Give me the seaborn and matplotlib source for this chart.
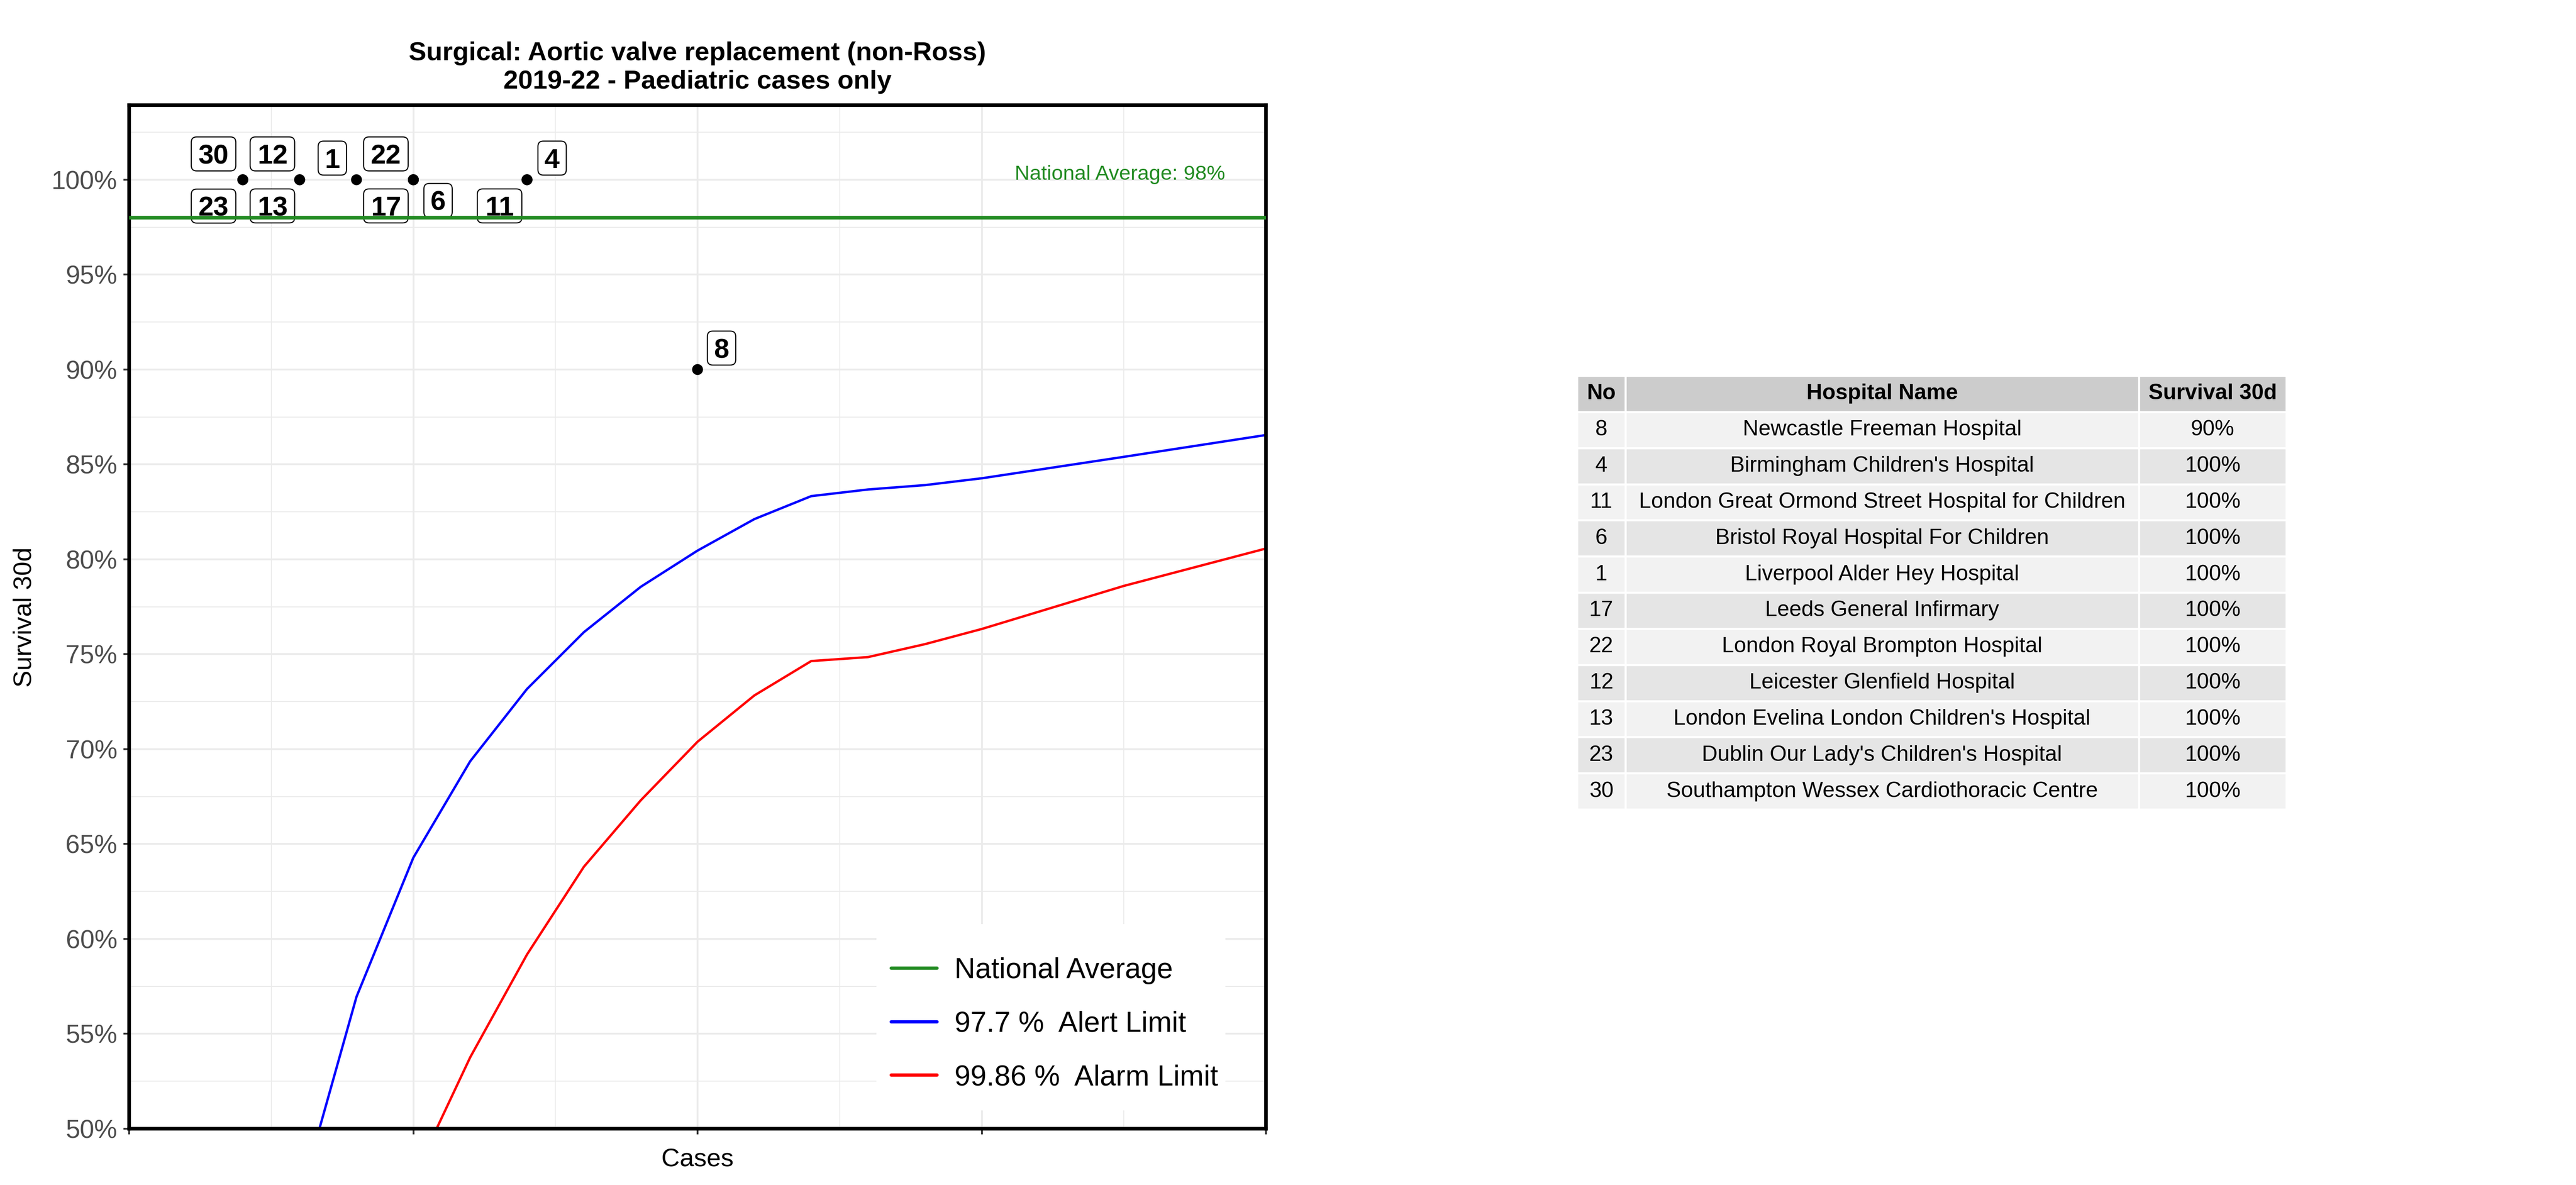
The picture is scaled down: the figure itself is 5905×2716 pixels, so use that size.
import matplotlib
matplotlib.use('Agg')
from matplotlib import pyplot as plt
from matplotlib.lines import Line2D
from matplotlib.patches import FancyBboxPatch, Rectangle
import matplotlib.transforms as mtransforms
import pandas as pd
import seaborn as sns

# hospitals in table order
hosp_no = ['8', '4', '11', '6', '1', '17', '22', '12', '13', '23', '30']
hosp_name = ['Newcastle Freeman Hospital', "Birmingham Children's Hospital",
             'London Great Ormond Street Hospital for Children',
             'Bristol Royal Hospital For Children', 'Liverpool Alder Hey Hospital',
             'Leeds General Infirmary', 'London Royal Brompton Hospital',
             'Leicester Glenfield Hospital', "London Evelina London Children's Hospital",
             "Dublin Our Lady's Children's Hospital",
             'Southampton Wessex Cardiothoracic Centre']
hosp_cases = [20, 14, 14, 10, 8, 10, 10, 6, 6, 4, 4]
hosp_survival = [90, 100, 100, 100, 100, 100, 100, 100, 100, 100, 100]

# where the repelled labels ended up, offset from the dot in points
label_dx = [13.2, 13.8, -15.1, 13.6, -13.3, -15.1, -15.1, -15.0, -15.0, -16.1, -16.1]
label_dy = [11.8, 11.9, -14.4, -11.4, 11.9, -14.4, 14.2, 14.2, -14.4, -14.5, 14.2]

# funnel limits
alert_cases = [6, 8, 10, 12, 14, 16, 18, 20, 22, 24, 26, 28, 30, 35, 40]
alert_survival = [46.3, 56.95, 64.28, 69.36, 73.17, 76.16, 78.55, 80.46, 82.12,
                  83.33, 83.68, 83.91, 84.27, 85.40, 86.55]
alarm_cases = [10, 12, 14, 16, 18, 20, 22, 24, 26, 28, 30, 35, 40]
alarm_survival = [47.4, 53.76, 59.18, 63.8, 67.3, 70.39, 72.83, 74.64, 74.85,
                  75.53, 76.33, 78.60, 80.57]
national_avg = 98

alert_name = '97.7 %  Alert Limit'
alarm_name = '99.86 %  Alarm Limit'

points = pd.DataFrame({'no': hosp_no, 'cases': hosp_cases, 'survival': hosp_survival})
limits = pd.concat([
    pd.DataFrame({'cases': alert_cases, 'survival': alert_survival, 'limit': alert_name}),
    pd.DataFrame({'cases': alarm_cases, 'survival': alarm_survival, 'limit': alarm_name}),
])

sns.set_theme(style='white')
plt.rcParams['font.family'] = ['Liberation Sans', 'DejaVu Sans']
plt.rcParams['text.color'] = 'black'

fig = plt.figure(figsize=(5905 / 300, 2716 / 300), dpi=300)
ax = fig.add_axes([296 / 5905, 1 - 2587 / 2716, 2606 / 5905, 2346 / 2716])

ax.set_xlim(0, 40)
ax.set_ylim(50, 103.93)

sns.lineplot(data=limits, x='cases', y='survival', hue='limit',
             palette={alert_name: 'blue', alarm_name: 'red'},
             linewidth=1.3, legend=False, ax=ax, zorder=2)
sns.scatterplot(data=points, x='cases', y='survival', color='black', s=36,
                edgecolor='none', ax=ax, zorder=3)

# labels with rounded boxes
for no, c, s, dx, dy in zip(hosp_no, hosp_cases, hosp_survival, label_dx, label_dy):
    w = 24.5 if len(no) > 1 else 15.6
    h = 18.7
    box_trans = mtransforms.Affine2D().scale(fig.dpi / 72.0) + \
        mtransforms.ScaledTranslation(c, s, ax.transData)
    box = FancyBboxPatch((dx - w / 2, dy - h / 2), w, h,
                         boxstyle='round,pad=0,rounding_size=3',
                         facecolor='white', edgecolor='black', lw=0.6,
                         transform=box_trans, zorder=4)
    ax.add_patch(box)
    ax.annotate(no, xy=(c, s), xytext=(dx, dy - 5.37), textcoords='offset points',
                ha='center', va='baseline', fontsize=15, fontweight='bold',
                color='black', zorder=5)

ax.axhline(national_avg, color='#228B22', lw=2, zorder=6)
ax.text(0.9643, 100, 'National Average: 98%', color='#228B22', fontsize=11.4,
        ha='right', va='baseline',
        transform=mtransforms.blended_transform_factory(ax.transAxes, ax.transData))

# axes styling
ax.set_xticks([0, 10, 20, 30, 40])
ax.set_xticks([5, 15, 25, 35], minor=True)
ax.set_xticklabels([])
ax.set_yticks(range(50, 101, 5))
ax.set_yticks([52.5 + 5 * i for i in range(11)], minor=True)
ax.set_yticklabels([f'{v}%' for v in range(50, 101, 5)])
ax.tick_params(axis='both', which='major', length=3.1, width=1, color='#333333',
               labelsize=14.2, labelcolor='#4D4D4D', pad=3.4, left=True, bottom=True)
ax.tick_params(which='minor', length=0)
ax.grid(which='major', color='#EBEBEB', lw=1)
ax.grid(which='minor', color='#EBEBEB', lw=0.5)
ax.set_axisbelow(True)
for sp in ax.spines.values():
    sp.set_color('black')
    sp.set_linewidth(2)
    sp.set_visible(True)

ax.set_xlabel('Cases', fontsize=14, color='black', va='baseline')
ax.xaxis.set_label_coords(0.5, (2587 - 2673) / 2346)
ax.set_ylabel('Survival 30d', fontsize=14, color='black', va='center')
ax.yaxis.set_label_coords((57 - 296) / 2606, 0.5)

# legend: white backing box, then a frameless legend on it
ax.add_patch(Rectangle((0.6573, 0.0179), 0.9643 - 0.6573, 0.1999 - 0.0179,
                       transform=ax.transAxes, facecolor='white', edgecolor='none',
                       zorder=1))
handles = [Line2D([], [], color='#228B22', lw=1.8),
           Line2D([], [], color='blue', lw=1.8),
           Line2D([], [], color='red', lw=1.8)]
leg = ax.legend(handles, ['National Average', alert_name, alarm_name],
                loc='upper left', bbox_to_anchor=(0.6704, 0.1675), borderaxespad=0,
                fontsize=15.8, frameon=False, handlelength=1.6, handletextpad=0.6,
                labelspacing=0.92, borderpad=0, labelcolor='black')
leg.set_zorder(7)

# title
fig.text(1599 / 5905, 1 - 138 / 2716, 'Surgical: Aortic valve replacement (non-Ross)',
         ha='center', va='baseline', fontsize=14.5, fontweight='bold', color='black')
fig.text(1599 / 5905, 1 - 203 / 2716, '2019-22 - Paediatric cases only',
         ha='center', va='baseline', fontsize=14.5, fontweight='bold', color='black')

# table
ax_t = fig.add_axes([3615 / 5905, 1 - 1855 / 2716, 1626 / 5905, 994 / 2716])
ax_t.axis('off')
cells = [[n, name, f'{v}%'] for n, name, v in zip(hosp_no, hosp_name, hosp_survival)]
tbl = ax_t.table(cellText=cells, colLabels=['No', 'Hospital Name', 'Survival 30d'],
                 cellLoc='center', colWidths=[0.0683, 0.7236, 0.2082], bbox=[0, 0, 1, 1])
tbl.auto_set_font_size(False)
tbl.set_fontsize(12)
for (r, c), cell in tbl.get_celld().items():
    cell.set_edgecolor('white')
    cell.set_linewidth(1.1)
    cell.get_text().set_color('black')
    if r == 0:
        cell.set_facecolor('#CCCCCC')
        cell.get_text().set_fontweight('bold')
    else:
        cell.set_facecolor('#F2F2F2' if r % 2 == 1 else '#E5E5E5')

fig.savefig('out.png', dpi=300)
